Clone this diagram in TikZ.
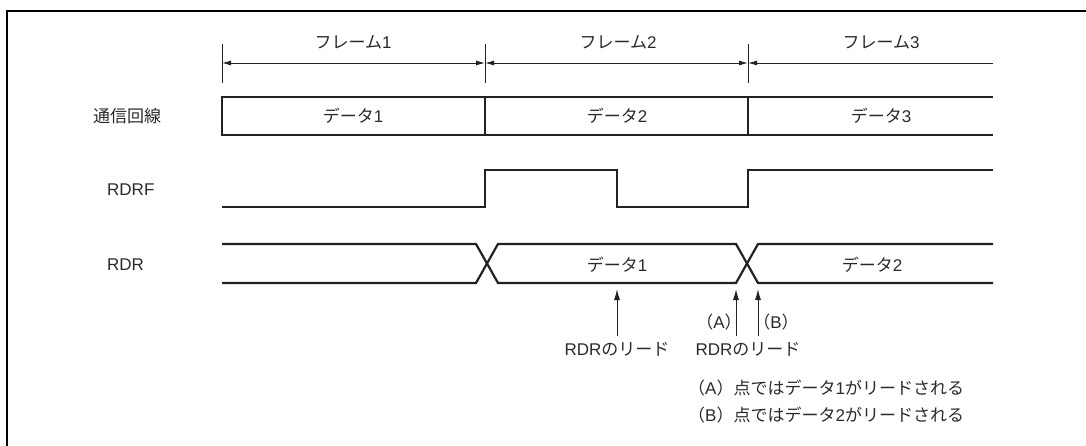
\documentclass[tikz,border=0pt]{standalone}
\usepackage{fontspec}
\setmainfont{Liberation Sans}
\newfontfamily\jp{Noto Sans CJK JP}
\usetikzlibrary{arrows.meta}
\definecolor{sigc}{HTML}{222222}
\definecolor{txtc}{HTML}{2A2A2A}
\begin{document}
\begin{tikzpicture}[x=1pt,y=-1pt,
  sig/.style={line width=2.2pt,draw=sigc,line join=miter},
  dim/.style={line width=1pt,draw=sigc},
  txt/.style={font=\fontsize{17}{20}\selectfont,text=txtc,inner sep=0pt},
  tipend/.style={-{Latex[length=11pt,width=6pt]}},
  tipboth/.style={{Latex[length=9pt,width=5pt]}-{Latex[length=9pt,width=5pt]}},
  tipstart/.style={{Latex[length=9pt,width=5pt]}-}
]
\useasboundingbox (0,0) rectangle (1086,445);
% outer frame
\draw[line width=2.8pt,black] (7,446) -- (7,11) -- (1087,11);

% frame boundaries
\coordinate (f0) at (222,63);
\coordinate (f1) at (485,63);
\coordinate (f2) at (748,63);
\coordinate (f3) at (993,63);
\foreach \c in {f0,f1,f2}{
  \draw[dim] ([yshift=-20pt]\c) -- ([yshift=19pt]\c);
}
\draw[dim,tipboth] (f0) -- (f1);
\draw[dim,tipboth] (f1) -- (f2);
\draw[dim,tipstart] (f2) -- (f3);
\node[txt] (fr1) at (353,42) {{\jp フレーム}1};
\node[txt] (fr2) at (618,42) {{\jp フレーム}2};
\node[txt] (fr3) at (881,42) {{\jp フレーム}3};

% signal labels
\node[txt,anchor=west] (l1) at (93,116) {\jp 通信回線};
\node[txt,anchor=west] (l2) at (107,190) {RDRF};
\node[txt,anchor=west] (l3) at (107,265) {RDR};

% communication line
\draw[sig] (993,97) -- (222,97) -- (222,135) -- (993,135);
\draw[sig] (485,97) -- (485,135);
\draw[sig] (748,97) -- (748,135);
\node[txt] (d1) at (353,116) {{\jp データ}1};
\node[txt] (d2) at (617,116) {{\jp データ}2};
\node[txt] (d3) at (881,116) {{\jp データ}3};

% RDRF
\draw[sig] (222,207) -- (485,207) -- (485,170) -- (617,170) -- (617,207) -- (748,207) -- (748,170) -- (993,170);

% RDR
\draw[sig] (222,244) -- (476,244) -- (498,283) -- (736,283) -- (758,244) -- (993,244);
\draw[sig] (222,283) -- (476,283) -- (498,244) -- (736,244) -- (758,283) -- (993,283);
\node[txt] (r1) at (617,265) {{\jp データ}1};
\node[txt] (r2) at (872,265) {{\jp データ}2};

% read arrows
\coordinate (a0) at (617,336);
\coordinate (a1) at (617,289);
\coordinate (b0) at (736,336);
\coordinate (b1) at (736,289);
\coordinate (c0) at (758,336);
\coordinate (c1) at (758,289);
\draw[dim,tipend] (a0) -- (a1);
\draw[dim,tipend] (b0) -- (b1);
\draw[dim,tipend] (c0) -- (c1);
\node[txt] (rd1) at (617,349) {RDR{\jp のリード}};
\node[txt] (rd2) at (748,349) {RDR{\jp のリード}};
\node[txt] (pa) at (719,322) {{\jp （}A{\jp ）}};
\node[txt] (pb) at (776,322) {{\jp （}B{\jp ）}};

% notes
\node[txt,anchor=west] (n1) at (688,388) {{\jp （}A{\jp ）点ではデータ}1{\jp がリードされる}};
\node[txt,anchor=west] (n2) at (688,415) {{\jp （}B{\jp ）点ではデータ}2{\jp がリードされる}};
\end{tikzpicture}
\end{document}
